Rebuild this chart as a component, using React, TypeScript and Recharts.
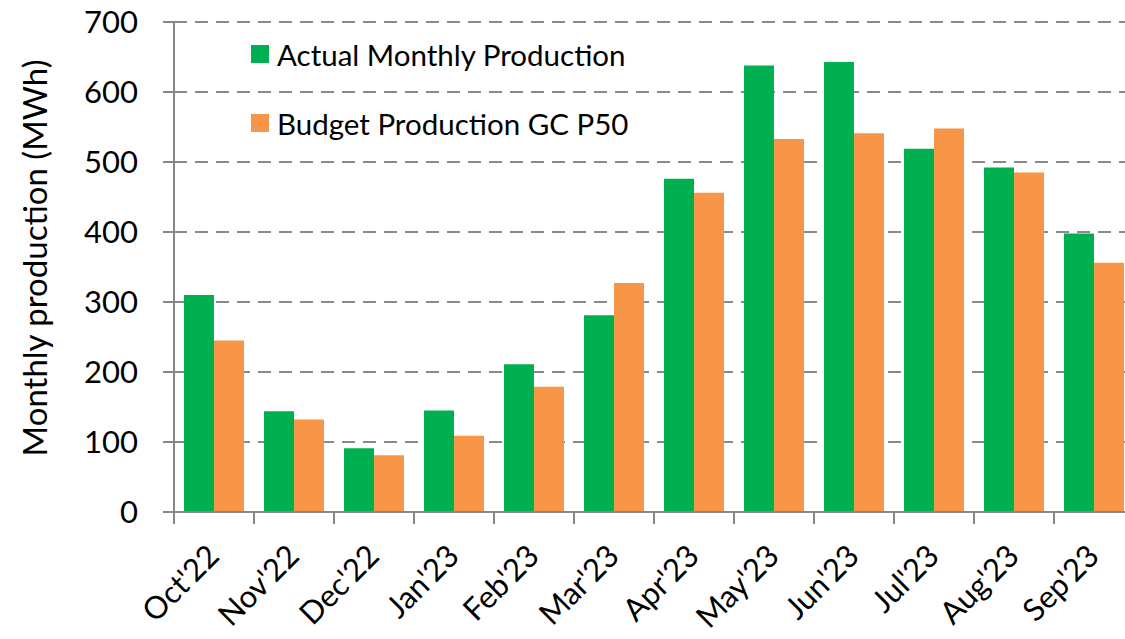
import React from "react";
import { BarChart, Bar, XAxis, YAxis, CartesianGrid, Legend } from "recharts";

const months = [
  "Oct'22", "Nov'22", "Dec'22", "Jan'23", "Feb'23", "Mar'23",
  "Apr'23", "May'23", "Jun'23", "Jul'23", "Aug'23", "Sep'23",
];
const actualProduction = [310, 144, 91, 145, 211, 281, 476, 638, 643, 519, 492, 398];
const budgetProduction = [245, 132, 81, 109, 179, 327, 456, 533, 541, 548, 485, 356];
const yTicks = [0, 100, 200, 300, 400, 500, 600, 700];

const data = months.map((month, i) => ({
  month,
  actual: actualProduction[i],
  budget: budgetProduction[i],
}));

const AXIS_GREY = "#868686";
const FONT = "Lato, 'Noto Sans', sans-serif";

function MonthTick(props: any) {
  const { x, y, payload, index } = props;
  const half = payload?.offset ?? 40;
  const isLast = index === months.length - 1;
  return (
    <g>
      <line x1={x - half} x2={x - half} y1={y} y2={y + 12} stroke={AXIS_GREY} strokeWidth={2} />
      {isLast && (
        <line x1={x + half} x2={x + half} y1={y} y2={y + 12} stroke={AXIS_GREY} strokeWidth={2} />
      )}
      <text
        transform={`translate(${x + 7},${y + 46}) rotate(-45)`}
        textAnchor="end"
        fontSize={31}
        fill="#000"
        fontFamily={FONT}
      >
        {payload.value}
      </text>
    </g>
  );
}

function renderLegend(props: any) {
  const { payload } = props;
  return (
    <div style={{ fontFamily: FONT }}>
      {payload.map((entry: any) => (
        <div
          key={entry.value}
          style={{ display: "flex", alignItems: "center", height: 34, marginBottom: 35 }}
        >
          <span
            style={{ width: 18, height: 18, background: entry.color, display: "inline-block", marginRight: 8 }}
          />
          <span style={{ fontSize: 29.5, color: "#000", whiteSpace: "nowrap" }}>{entry.value}</span>
        </div>
      ))}
    </div>
  );
}

export default function App() {
  return (
    <div
      style={{
        position: "absolute",
        left: 0,
        top: 0,
        width: 1125,
        height: 639,
        overflow: "hidden",
        background: "#fff",
        fontFamily: FONT,
      }}
    >
      <BarChart
        width={1140}
        height={639}
        data={data}
        margin={{ top: 22, right: 6, left: 0, bottom: 0 }}
        barCategoryGap="12.5%"
        barGap={0}
      >
        <CartesianGrid
          vertical={false}
          stroke="#8a8a8a"
          strokeWidth={2}
          strokeDasharray="13 8"
        />
        <XAxis
          dataKey="month"
          interval={0}
          height={127}
          tickSize={0}
          tickMargin={0}
          tickLine={false}
          axisLine={{ stroke: AXIS_GREY, strokeWidth: 2 }}
          tick={<MonthTick />}
        />
        <YAxis
          width={174}
          domain={[0, 700]}
          ticks={yTicks}
          interval={0}
          tickSize={11}
          tickMargin={25}
          axisLine={{ stroke: AXIS_GREY, strokeWidth: 2 }}
          tickLine={{ stroke: AXIS_GREY, strokeWidth: 2 }}
          tick={{ fontSize: 31, fill: "#000", fontFamily: FONT }}
          label={{
            content: () => (
              <text
                x={47}
                y={258}
                transform="rotate(-90 47 258)"
                textAnchor="middle"
                fontSize={33}
                fill="#000"
                fontFamily={FONT}
              >
                Monthly production (MWh)
              </text>
            ),
          }}
        />
        <Legend
          layout="vertical"
          verticalAlign="middle"
          align="center"
          content={renderLegend}
          wrapperStyle={{ left: 251, top: 37, width: "auto" }}
        />
        <Bar dataKey="actual" name="Actual Monthly Production" fill="#00B050" isAnimationActive={false} />
        <Bar dataKey="budget" name="Budget Production GC P50" fill="#F79646" isAnimationActive={false} />
      </BarChart>
    </div>
  );
}
